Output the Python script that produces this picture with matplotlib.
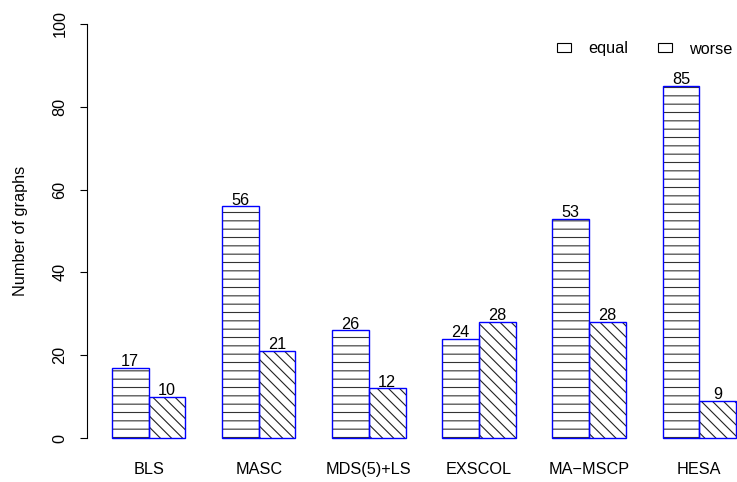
import numpy as np
import matplotlib.pyplot as plt
from matplotlib.patches import Patch

plt.rcParams['font.family'] = ['Liberation Sans', 'DejaVu Sans']
plt.rcParams['hatch.linewidth'] = 0.8

methods = ['BLS', 'MASC', 'MDS(5)+LS', 'EXSCOL', 'MA\u2212MSCP', 'HESA']
equal = [17, 56, 26, 24, 53, 85]
worse = [10, 21, 12, 28, 28, 9]

fs = 11.7

# R-like barplot layout: bar width 1, one unit gap between groups
grp = np.arange(len(methods)) * 3
x_eq = grp + 1.5
x_wo = grp + 2.5

fig = plt.figure(figsize=(7.37, 4.82), dpi=100)
ax = fig.add_axes([0.118, 0.0568, 0.9146, 0.9278])

# hatch pass (dark lines), then blue outline on top
ax.bar(x_eq, equal, width=1, color='white', edgecolor='#333333', linewidth=0, hatch='--')
ax.bar(x_wo, worse, width=1, color='white', edgecolor='#222222', linewidth=0, hatch='\\\\\\')
ax.bar(x_eq, equal, width=1, fill=False, edgecolor='#0000ff', linewidth=1)
ax.bar(x_wo, worse, width=1, fill=False, edgecolor='#0000ff', linewidth=1)

for xs, vals in ((x_eq, equal), (x_wo, worse)):
    for x, v in zip(xs, vals):
        ax.annotate(str(v), (x, v), xytext=(0, 1.2), textcoords='offset points',
                    ha='center', va='baseline', fontsize=fs)

ax.set_xlim(0.32, 18.68)
ax.set_ylim(-4, 104)

ax.set_yticks([0, 20, 40, 60, 80, 100])
ax.tick_params(axis='y', length=5, width=0.8, pad=9, labelsize=fs)
for lab in ax.get_yticklabels():
    lab.set_rotation(90)
    lab.set_va('center')

ax.set_xticks(grp + 2)
ax.set_xticklabels(methods)
ax.tick_params(axis='x', length=0, pad=5, labelsize=fs)

for s in ['top', 'right', 'bottom']:
    ax.spines[s].set_visible(False)
ax.spines['left'].set_bounds(0, 100)
ax.spines['left'].set_linewidth(0.8)

ax.set_ylabel('Number of graphs', fontsize=fs)
ax.yaxis.set_label_coords(-0.088, 0.5)

handles = [Patch(facecolor='white', edgecolor='black', linewidth=0.8, label='equal'),
           Patch(facecolor='white', edgecolor='black', linewidth=0.8, hatch='\\', label='worse')]
fig.legend(handles=handles, loc='center right', bbox_to_anchor=(741 / 737, 1 - 49 / 482),
           ncol=2, frameon=False, fontsize=fs, borderpad=0, handlelength=0.86,
           handleheight=0.43, handletextpad=1.05, columnspacing=1.85)

fig.savefig('out.png', dpi=100)
